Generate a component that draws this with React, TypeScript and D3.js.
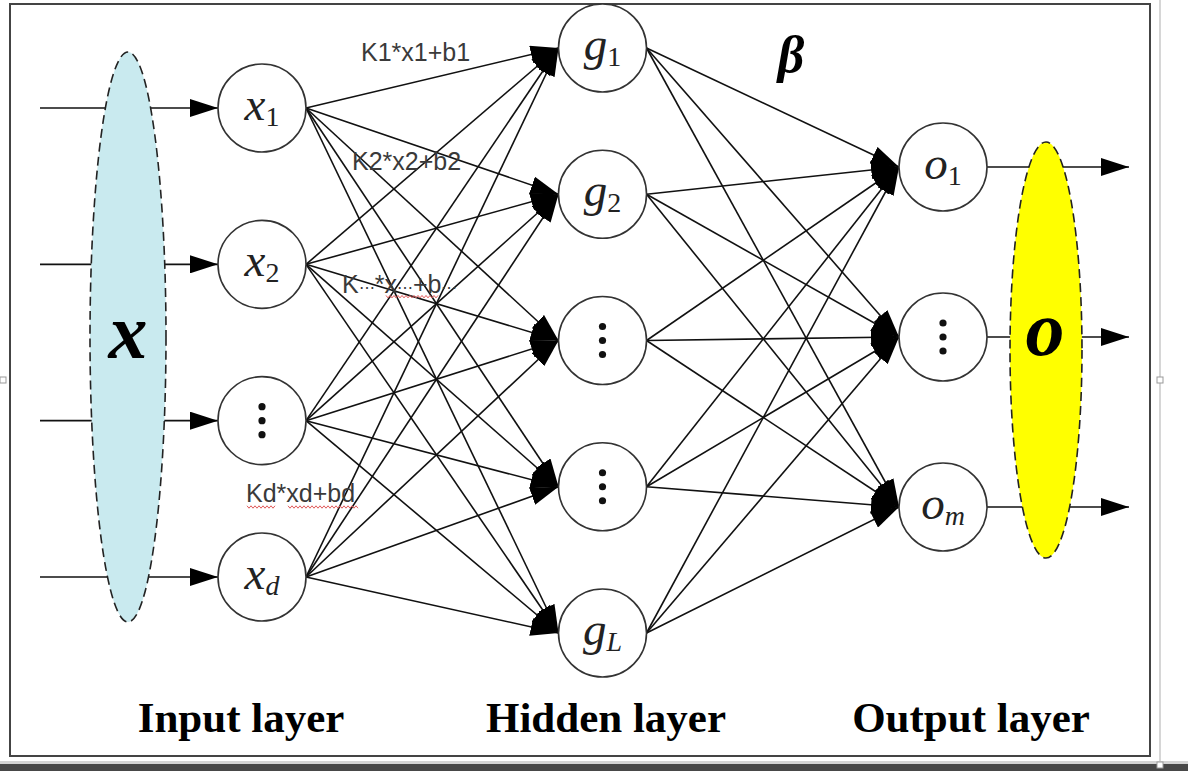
import { useEffect, useRef } from 'react'
import * as d3 from 'd3'

const W = 1188, H = 771

// nodes per layer: italic stem + subscript, an empty stem means the "⋮" node
const inputNodes = [{ base: 'x', sub: '1' }, { base: 'x', sub: '2' }, { base: '', sub: '' }, { base: 'x', sub: 'd' }]
const hiddenNodes = [{ base: 'g', sub: '1' }, { base: 'g', sub: '2' }, { base: '', sub: '' }, { base: '', sub: '' }, { base: 'g', sub: 'L' }]
const outputNodes = [{ base: 'o', sub: '1' }, { base: '', sub: '' }, { base: 'o', sub: 'm' }]
const layerNames = ['Input layer', 'Hidden layer', 'Output layer']
const weightLabels = [['K1*x1+b1'], ['K2*x2+b2'], ['K', '⋯', '*x', '⋯', '+b', '⋯'], ['Kd*xd+bd']]
const inputSymbol = 'x', outputSymbol = 'o', weightSymbol = 'β'

const SERIF = '"Liberation Serif", "Times New Roman", serif'
const SANS = '"Liberation Sans", Arial, sans-serif'

export default function App() {
  const ref = useRef<SVGSVGElement>(null)

  useEffect(() => {
    const svg = d3.select(ref.current!)
    svg.selectAll('*').remove()

    const r = 44
    const colX = d3.scalePoint<string>().domain(layerNames).range([262, 943])
    const titleX = d3.scalePoint<string>().domain(layerNames).range([241, 971])
    const yIn = d3.scalePoint<number>().domain(d3.range(inputNodes.length)).range([108, 577])
    const yHid = d3.scalePoint<number>().domain(d3.range(hiddenNodes.length)).range([48, 633])
    const yOut = d3.scalePoint<number>().domain(d3.range(outputNodes.length)).range([167, 507])
    const xIn = colX(layerNames[0])!, xHid = colX(layerNames[1])!, xOut = colX(layerNames[2])!

    const defs = svg.append('defs')
    defs.append('marker').attr('id', 'head').attr('viewBox', '0 0 28 18').attr('refX', 28).attr('refY', 9)
      .attr('markerWidth', 28).attr('markerHeight', 18).attr('markerUnits', 'userSpaceOnUse').attr('orient', 'auto')
      .append('path').attr('d', 'M0,0L28,9L0,18Z').attr('fill', '#000')

    svg.append('rect').attr('width', W).attr('height', H).attr('fill', '#fff')

    // page chrome: frame, page edge, handles, bottom bar
    svg.append('line').attr('x1', 1160).attr('x2', 1160).attr('y1', 0).attr('y2', 762).attr('stroke', '#c8c8c8').attr('stroke-width', 1.5)
    svg.append('rect').attr('x', 10).attr('y', 4).attr('width', 1140).attr('height', 752)
      .attr('fill', 'none').attr('stroke', '#444').attr('stroke-width', 2)
    svg.append('rect').attr('x', 0).attr('y', 761).attr('width', W).attr('height', 3).attr('fill', '#d4d4d4')
    svg.append('rect').attr('x', 0).attr('y', 764).attr('width', W).attr('height', 7).attr('fill', '#484848')
    ;[[0, 377], [1157, 377], [1157, 762]].forEach(([x, y]) =>
      svg.append('rect').attr('x', x).attr('y', y).attr('width', 6).attr('height', 6)
        .attr('fill', '#fff').attr('stroke', '#999').attr('stroke-width', 1))

    const edge = (x1: number, y1: number, x2: number, y2: number) =>
      svg.append('line').attr('x1', x1).attr('y1', y1).attr('x2', x2).attr('y2', y2)
        .attr('stroke', '#111').attr('stroke-width', 1.6).attr('marker-end', 'url(#head)')

    // input arrows, then the blue input ellipse over them
    inputNodes.forEach((_, i) => edge(40, yIn(i)!, xIn - r, yIn(i)!))
    svg.append('ellipse').attr('cx', 128).attr('cy', 337).attr('rx', 38).attr('ry', 285)
      .attr('fill', '#c9eaef').attr('stroke', '#222').attr('stroke-width', 1.6).attr('stroke-dasharray', '9 5')
    svg.append('text').attr('x', 128).attr('y', 358).attr('text-anchor', 'middle')
      .attr('font-family', SERIF).attr('font-size', 78).attr('font-weight', 'bold').attr('font-style', 'italic')
      .text(inputSymbol)

    // full connections input -> hidden -> output
    inputNodes.forEach((_, i) => hiddenNodes.forEach((_, j) => edge(xIn + r, yIn(i)!, xHid - r, yHid(j)!)))
    hiddenNodes.forEach((_, j) => outputNodes.forEach((_, k) => edge(xHid + r, yHid(j)!, xOut - r, yOut(k)!)))

    // output arrows, then the yellow ellipse
    outputNodes.forEach((_, k) => edge(xOut + r, yOut(k)!, 1129, yOut(k)!))
    svg.append('ellipse').attr('cx', 1046).attr('cy', 350).attr('rx', 36).attr('ry', 208)
      .attr('fill', '#ffff00').attr('stroke', '#222').attr('stroke-width', 1.6).attr('stroke-dasharray', '9 5')
    svg.append('text').attr('x', 1045).attr('y', 355).attr('text-anchor', 'middle')
      .attr('font-family', SERIF).attr('font-size', 78).attr('font-weight', 'bold').attr('font-style', 'italic')
      .text(outputSymbol)

    // nodes
    const drawLayer = (nodes: { base: string; sub: string }[], cx: number, y: (i: number) => number) => {
      nodes.forEach((n, i) => {
        const cy = y(i)
        svg.append('circle').attr('cx', cx).attr('cy', cy).attr('r', r)
          .attr('fill', '#fff').attr('stroke', '#333').attr('stroke-width', 1.6)
        if (!n.base) {
          ;[-14, 0, 14].forEach(d => svg.append('circle').attr('cx', cx).attr('cy', cy + d).attr('r', 3.6).attr('fill', '#111'))
          return
        }
        const t = svg.append('text').attr('x', cx).attr('y', cy + 12).attr('text-anchor', 'middle')
          .attr('font-family', SERIF).attr('fill', '#222')
        t.append('tspan').attr('font-size', 47).attr('font-style', 'italic').text(n.base)
        t.append('tspan').attr('font-size', 28).attr('dy', 6)
          .attr('font-style', /\d/.test(n.sub) ? 'normal' : 'italic').text(n.sub)
      })
    }
    drawLayer(inputNodes, xIn, i => yIn(i)!)
    drawLayer(hiddenNodes, xHid, i => yHid(i)!)
    drawLayer(outputNodes, xOut, i => yOut(i)!)

    // layer titles and beta
    layerNames.forEach(name =>
      svg.append('text').attr('x', titleX(name)!).attr('y', 732).attr('text-anchor', 'middle')
        .attr('font-family', SERIF).attr('font-size', 43).attr('font-weight', 'bold').text(name))
    svg.append('text').attr('x', 791).attr('y', 72).attr('text-anchor', 'middle')
      .attr('font-family', SERIF).attr('font-size', 52).attr('font-weight', 'bold').attr('font-style', 'italic')
      .text(weightSymbol)

    // weight annotations near each input's fan
    const labelOffset = [[99, -47], [90, -94], [80, -128], [-16, -75]]
    weightLabels.forEach((parts, i) => {
      const [dx, dy] = labelOffset[i]
      const t = svg.append('text').attr('x', xIn + dx).attr('y', yIn(i)! + dy)
        .attr('font-family', SANS).attr('font-size', 25).attr('fill', '#3a3a3a')
      parts.forEach(p => t.append('tspan').attr('font-size', p === '⋯' ? 16 : 25).text(p))
    })

    // spell-check squiggles under the last two annotations
    const squiggle = (x0: number, x1: number, y: number) => {
      const pts: [number, number][] = d3.range(x0, x1, 2).map((x, k) => [x, y + (k % 2 ? 1.2 : -1.2)])
      svg.append('path').attr('d', d3.line()(pts)!).attr('fill', 'none').attr('stroke', '#e05a5a').attr('stroke-width', 1)
    }
    squiggle(xIn - 15, xIn + 14, yIn(3)! - 70)
    squiggle(xIn + 26, xIn + 98, yIn(3)! - 70)
    squiggle(xIn + 124, xIn + 178, yIn(2)! - 124)
  }, [])

  return <svg ref={ref} width={W} height={H} style={{ position: 'absolute', left: 0, top: 0, display: 'block' }} />
}
